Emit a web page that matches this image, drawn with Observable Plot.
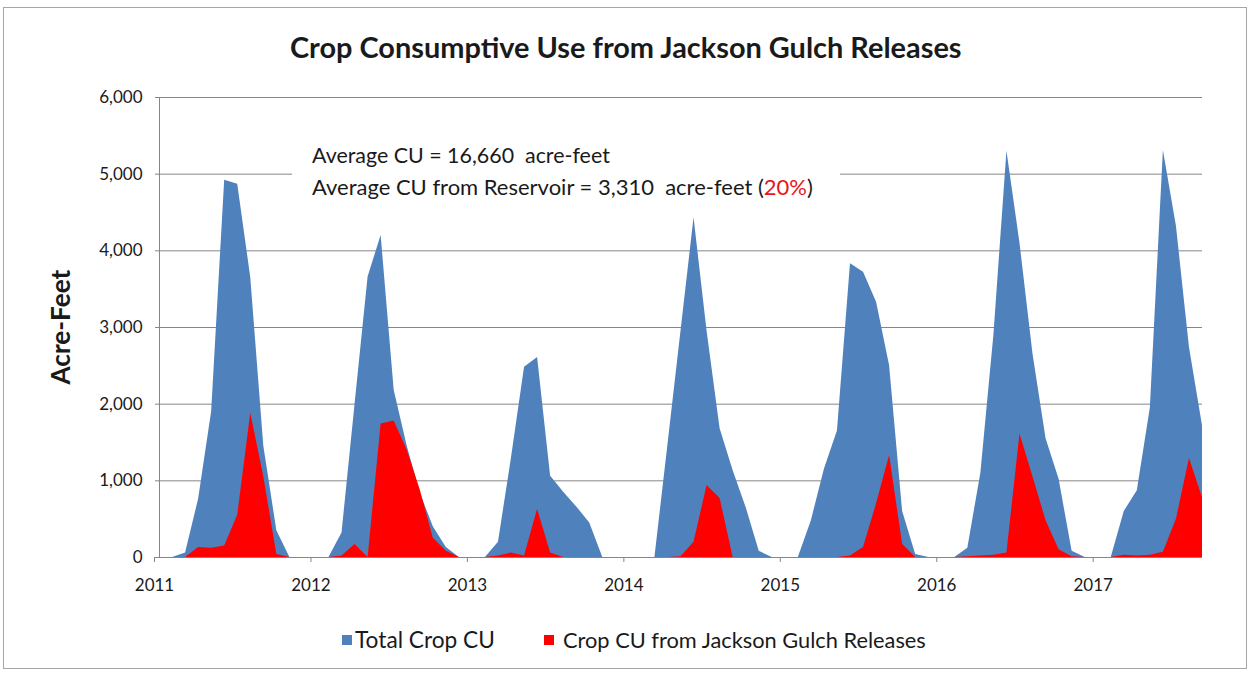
<!DOCTYPE html>
<html>
<head>
<meta charset="utf-8">
<script src="https://cdn.jsdelivr.net/npm/d3@7"></script>
<script src="https://cdn.jsdelivr.net/npm/@observablehq/plot@0.6"></script>
<style>
  html, body { margin: 0; padding: 0; background: #fff; }
  #page { position: relative; width: 1253px; height: 674px; overflow: hidden; font-family: Lato, "Open Sans", sans-serif; color: #1a1a1a; }
  #frame { position: absolute; left: 3px; top: 7px; width: 1244px; height: 662px; border: 1px solid #a6a6a6; box-sizing: border-box; }
  .t { position: absolute; white-space: nowrap; line-height: 1; }
  #chart { position: absolute; left: 0; top: 80px; }
  #note { position: absolute; left: 292px; top: 136px; width: 548px; height: 68px; background: #fff; }
  .sw { position: absolute; width: 10px; height: 10px; }
</style>
</head>
<body>
<div id="page">
  <div id="frame"></div>
  <div id="chart"></div>
  <div id="note"></div>
  <span class="t" id="title" style="font-weight:700;font-size:24px;">Crop Consumptive Use from Jackson Gulch Releases</span>
  <span class="t" id="ylab" style="font-weight:700;font-size:20px;">Acre-Feet</span>
  <span class="t" id="note1" style="font-size:18px;">Average CU = 16,660&nbsp; acre-feet</span>
  <span class="t" id="note2" style="font-size:18px;">Average CU from Reservoir = 3,310&nbsp; acre-feet (<span style="color:#e8141b">20%</span>)</span>
  <div class="sw" id="sw1" style="background:#4F81BD"></div>
  <span class="t" id="leg1" style="font-size:18px;">Total Crop CU</span>
  <div class="sw" id="sw2" style="background:#FF0000"></div>
  <span class="t" id="leg2" style="font-size:18px;">Crop CU from Jackson Gulch Releases</span>
</div>
<script>
// Monthly values, Jan 2011 .. Sep 2017 (acre-feet)
const startYear = 2011;
const totalCU = [
  0, 0, 60, 760, 1900, 4920, 4870, 3650, 1450, 350, 0, 0,          // 2011
  0, 0, 320, 2000, 3660, 4200, 2180, 1450, 840, 400, 130, 0,       // 2012
  0, 0, 200, 1300, 2480, 2610, 1060, 850, 660, 450, 0, 0,          // 2013
  0, 0, 0, 1470, 2950, 4430, 2950, 1680, 1130, 650, 80, 0,         // 2014
  0, 0, 480, 1150, 1650, 3830, 3720, 3330, 2500, 600, 40, 0,       // 2015
  0, 0, 120, 1100, 2900, 5300, 4100, 2650, 1550, 1020, 80, 0,      // 2016
  0, 0, 600, 870, 1950, 5310, 4320, 2740, 1720                     // 2017
];
const jacksonCU = [
  0, 0, 0, 130, 120, 150, 550, 1880, 1050, 40, 0, 0,               // 2011
  0, 0, 20, 170, 0, 1740, 1780, 1400, 880, 250, 80, 0,             // 2012
  0, 0, 20, 60, 20, 630, 60, 0, 0, 0, 0, 0,                        // 2013
  0, 0, 0, 0, 10, 200, 940, 770, 0, 0, 0, 0,                       // 2014
  0, 0, 0, 0, 0, 20, 130, 700, 1330, 170, 0, 0,                    // 2015
  0, 0, 10, 20, 30, 60, 1610, 1050, 480, 100, 10, 0,               // 2016
  0, 0, 30, 20, 30, 70, 500, 1290, 780                             // 2017
];
const yTicks = [0, 1000, 2000, 3000, 4000, 5000, 6000];
const yearLabels = ["2011", "2012", "2013", "2014", "2015", "2016", "2017"];

const rows = totalCU.map((v, i) => ({ m: i, total: v, jackson: jacksonCU[i] }));
const xTicks = yearLabels.map((_, k) => k * 12);
const grid = "#868686";

const chart = Plot.plot({
  width: 1253,
  height: 520,
  marginLeft: 159,
  marginRight: 51,
  marginTop: 17,
  marginBottom: 43,
  style: { fontFamily: "Lato, 'Open Sans', sans-serif", fontSize: "17px", color: "#1a1a1a", background: "transparent" },
  x: { domain: [0, totalCU.length - 1] },
  y: { domain: [0, 6000] },
  marks: [
    Plot.ruleY(yTicks.filter(d => d > 0), { stroke: grid, strokeWidth: 1 }),
    Plot.areaY(rows, { x: "m", y: "total", fill: "#4F81BD" }),
    Plot.areaY(rows, { x: "m", y: "jackson", fill: "#FF0000" }),
    Plot.axisY({ ticks: yTicks, tickFormat: d3.format(","), tickSize: 4, tickPadding: 13, stroke: grid, label: null }),
    Plot.axisX({ ticks: xTicks, tickFormat: d => yearLabels[d / 12], tickSize: 5, tickPadding: 16, stroke: grid, label: null, dx: -5 }),
    Plot.ruleX([0], { stroke: grid }),
    Plot.ruleY([0], { stroke: grid })
  ]
});
document.getElementById("chart").appendChild(chart);

// text placement helpers: fit width to target then place
function fit(id, width) {
  const el = document.getElementById(id);
  const w = el.getBoundingClientRect().width;
  const fs = parseFloat(getComputedStyle(el).fontSize);
  el.style.fontSize = (fs * width / w) + "px";
  return el;
}
function placeLeft(id, left, cy, width) {
  const el = fit(id, width);
  el.style.left = left + "px";
  el.style.top = (cy - el.offsetHeight / 2) + "px";
}
placeLeft("title", 290, 47, 672);
placeLeft("note1", 312, 155, 298);
placeLeft("note2", 312, 187, 501);
placeLeft("leg1", 355, 640, 140);
placeLeft("leg2", 563, 640, 363);
const sw1 = document.getElementById("sw1"); sw1.style.left = "342px"; sw1.style.top = "635px";
const sw2 = document.getElementById("sw2"); sw2.style.left = "544px"; sw2.style.top = "635px";
const yl = fit("ylab", 115);
yl.style.left = (60 - yl.offsetWidth / 2) + "px";
yl.style.top = (327 - yl.offsetHeight / 2) + "px";
yl.style.transform = "rotate(-90deg)";
</script>
</body>
</html>
